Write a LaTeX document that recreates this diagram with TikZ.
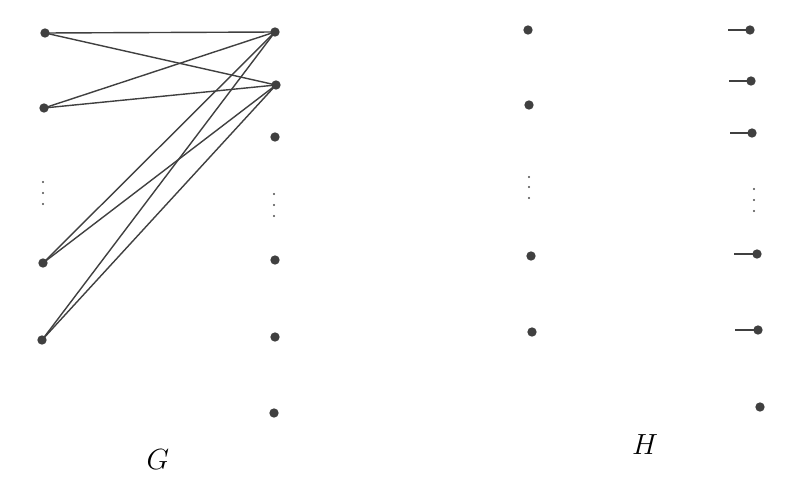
\documentclass[tikz,border=0pt]{standalone}
\begin{document}
\begin{tikzpicture}[x=0.03cm,y=-0.03cm,
  vtx/.style={circle,fill=black!75,inner sep=0pt,minimum size=0.28cm},
  sdot/.style={circle,fill=black!70,inner sep=0pt,minimum size=0.07cm},
  edge/.style={line width=1.2pt,draw=black!75},
  lbl/.style={font=\fontsize{24}{28}\selectfont}]
\useasboundingbox (0,0) rectangle (801,477);
% G left
\node[vtx] (a1) at (45,33) {};
\node[vtx] (a2) at (44,108) {};
\node[vtx] (a3) at (43,263) {};
\node[vtx] (a4) at (42,340) {};
\foreach \y/\n in {182/1,193/2,204/3} \node[sdot] (ad\n) at (43,\y) {};
% G right
\node[vtx] (b1) at (275,32) {};
\node[vtx] (b2) at (276,85) {};
\node[vtx] (b3) at (275,137) {};
\node[vtx] (b4) at (275,260) {};
\node[vtx] (b5) at (275,337) {};
\node[vtx] (b6) at (274,413) {};
\foreach \y/\n in {194/1,205/2,216/3} \node[sdot] (bd\n) at (274,\y) {};
\foreach \a in {a1,a2,a3,a4}{
  \draw[edge] (\a.center) -- (b1.center);
  \draw[edge] (\a.center) -- (b2.center);
}
\node[lbl] (G) at (158,460) {$G$};
% H left
\node[vtx] (c1) at (528,30) {};
\node[vtx] (c2) at (529,105) {};
\node[vtx] (c3) at (531,256) {};
\node[vtx] (c4) at (532,332) {};
\foreach \y/\n in {177/1,187/2,198/3} \node[sdot] (cd\n) at (529,\y) {};
% H right
\node[vtx] (d1) at (750,30) {};
\node[vtx] (d2) at (751,81) {};
\node[vtx] (d3) at (752,133) {};
\node[vtx] (d4) at (757,254) {};
\node[vtx] (d5) at (758,330) {};
\node[vtx] (d6) at (760,407) {};
\foreach \y/\n in {189/1,200/2,211/3} \node[sdot] (dd\n) at (754,\y) {};
\coordinate (e1) at (728,30);
\coordinate (e2) at (729,81);
\coordinate (e3) at (730,133);
\coordinate (e4) at (734,254);
\coordinate (e5) at (735,330);
\foreach \i in {1,...,5} \draw[edge] (e\i) -- (d\i.center);
\node[lbl] (H) at (645,445) {$H$};
\end{tikzpicture}
\end{document}
